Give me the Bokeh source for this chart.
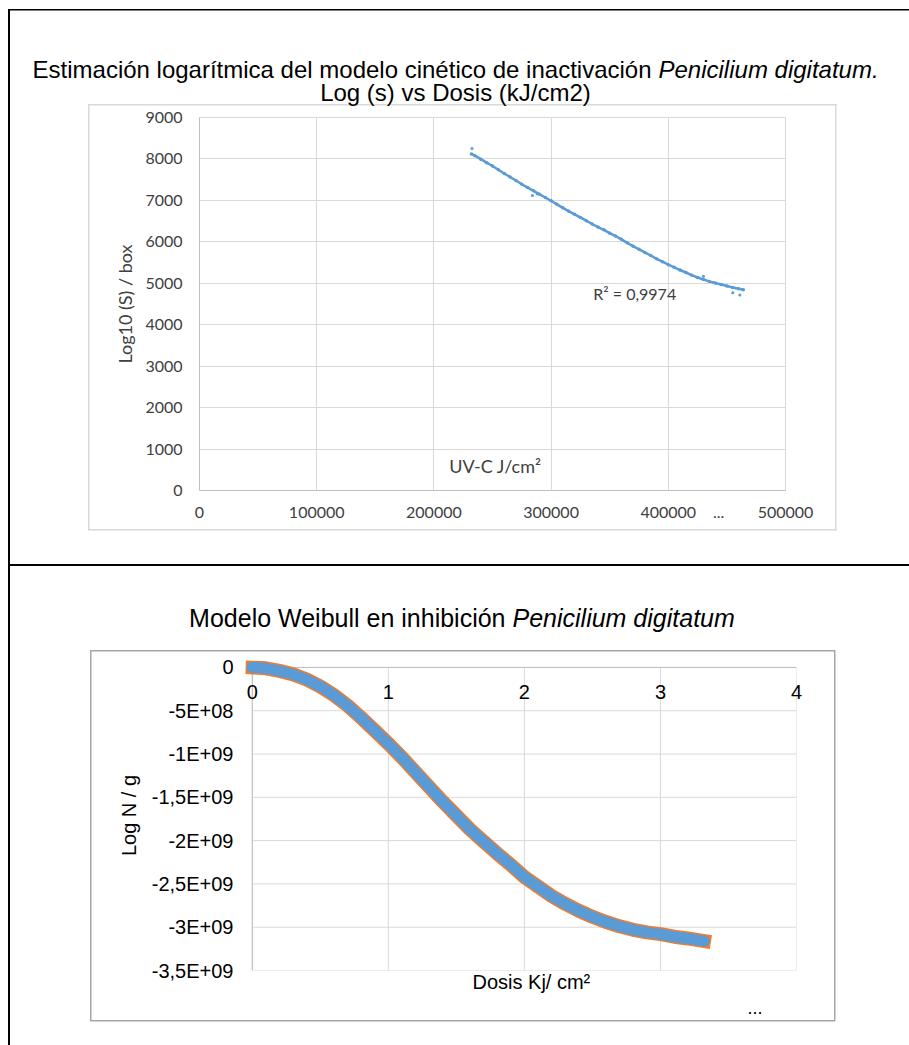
from bokeh.plotting import figure
from bokeh.layouts import column
from bokeh.models import Range1d, FixedTicker, Title
from bokeh.core.properties import value
from bokeh.embed import file_html
from bokeh.resources import INLINE

# ---- Inactivation kinetics: UV-C dose (J/cm2) vs log10 survival ----
uv_dose = [232000, 235000, 240000, 245000, 250000, 255000, 260000, 265000,
           270000, 275000, 280000, 285000, 290000, 295000, 300000, 305000,
           310000, 315000, 320000, 325000, 330000, 335000, 340000, 345000,
           350000, 355000, 360000, 365000, 370000, 375000, 380000, 385000,
           390000, 395000, 400000, 405000, 410000, 415000, 420000, 425000,
           430000, 435000, 440000, 445000, 450000, 455000, 460000, 464000]
log_s = [8120, 8080, 7995, 7910, 7830, 7740, 7650, 7565,
         7480, 7390, 7310, 7230, 7150, 7070, 6990, 6905,
         6820, 6740, 6665, 6590, 6510, 6430, 6355, 6290,
         6210, 6140, 6060, 5975, 5895, 5820, 5745, 5670,
         5590, 5520, 5450, 5385, 5320, 5260, 5195, 5140,
         5090, 5045, 5005, 4970, 4935, 4900, 4870, 4845]
# scattered readings off the main trend
uv_dose_extra = [232500, 284000, 288000, 430000, 455000, 461000]
log_s_extra = [8250, 7120, 7160, 5170, 4770, 4720]

top_x_ticks = [0, 100000, 200000, 300000, 400000, 500000]
top_x_labels = ["0", "100000", "200000", "300000", "400000", "500000"]
top_y_ticks = [0, 1000, 2000, 3000, 4000, 5000, 6000, 7000, 8000, 9000]
top_y_labels = ["0", "1000", "2000", "3000", "4000", "5000", "6000", "7000", "8000", "9000"]
r2_text = "R² = 0,9974"

# ---- Weibull model: dose (kJ/cm2) vs log N/g ----
weibull_dose = [0.0, 0.1, 0.2, 0.3, 0.4, 0.5, 0.6, 0.7, 0.8, 0.9, 1.0,
                1.1, 1.2, 1.3, 1.4, 1.5, 1.6, 1.7, 1.8, 1.9, 2.0,
                2.1, 2.2, 2.3, 2.4, 2.5, 2.6, 2.7, 2.8, 2.9, 3.0,
                3.1, 3.2, 3.32]
weibull_log_n = [0.0, -0.01e9, -0.04e9, -0.08e9, -0.14e9, -0.22e9, -0.32e9,
                 -0.44e9, -0.58e9, -0.73e9, -0.88e9,
                 -1.04e9, -1.21e9, -1.38e9, -1.55e9, -1.71e9, -1.87e9,
                 -2.01e9, -2.15e9, -2.28e9, -2.42e9,
                 -2.53e9, -2.64e9, -2.73e9, -2.81e9, -2.88e9, -2.94e9,
                 -2.99e9, -3.03e9, -3.06e9, -3.08e9,
                 -3.11e9, -3.13e9, -3.16e9]

bottom_x_ticks = [0, 1, 2, 3, 4]
bottom_x_labels = ["0", "1", "2", "3", "4"]
bottom_y_ticks = [0, -500000000, -1000000000, -1500000000, -2000000000,
                  -2500000000, -3000000000, -3500000000]
bottom_y_labels = ["0", "-5E+08", "-1E+09", "-1,5E+09", "-2E+09",
                   "-2,5E+09", "-3E+09", "-3,5E+09"]

BLUE = "#5B9BD5"
ORANGE = "#ED7D31"
GRID = "#d9d9d9"
AXIS = "#bfbfbf"
BOX_TOP = "#d9d9d9"
BOX_BOTTOM = "#a6a6a6"
CALIBRI = "Lato"
ARIAL = "Liberation Sans"
PAGE_W = 909


def css_rules(rules):
    """Page frame and chart-area borders as stacked CSS background layers."""
    layers = [f"linear-gradient({c},{c}) {x}px {y}px / {w}px {h}px no-repeat"
              for (x, y, w, h, c) in rules]
    return ", ".join(layers + ["#ffffff"])


def strip(width, height):
    """A plain transparent drawing surface whose frame fills its canvas,
    with y growing downwards."""
    p = figure(width=width, height=height,
               x_range=Range1d(0, width), y_range=Range1d(height, 0),
               x_axis_type=None, y_axis_type=None,
               toolbar_location=None, output_backend="svg",
               min_border=0, frame_align=False,
               border_fill_color=None, background_fill_color=None)
    p.outline_line_color = None
    return p


def words(p, x, y, text, font, size, style="normal", align="left", color="black"):
    p.text(x=[x], y=[y], text=[text], text_font=value(font), text_font_size=size,
           text_font_style=style, text_align=align, text_baseline="middle",
           text_color=color)


def style_axes(p, font, size, color):
    for ax in (p.xaxis[0], p.yaxis[0]):
        ax.major_tick_line_color = None
        ax.minor_tick_line_color = None
        ax.major_tick_out = 0
        ax.major_tick_in = 0
        ax.axis_line_color = AXIS
        ax.major_label_text_font = font
        ax.major_label_text_font_size = size
        ax.major_label_text_color = color
        ax.axis_label_text_font_style = "normal"
    p.xgrid.grid_line_color = GRID
    p.ygrid.grid_line_color = GRID
    p.outline_line_color = GRID


# ================= top chart =================
head1 = strip(PAGE_W, 107)
words(head1, 651, 69, "Estimación logarítmica del modelo cinético de inactivación",
      ARIAL, "24px", align="right")
words(head1, 658, 69, "Penicilium digitatum.", ARIAL, "24px", style="italic")
words(head1, 455, 92, "Log (s) vs Dosis (kJ/cm2)", ARIAL, "24px", align="center")

ellipsis_x = 443000
top = figure(width=PAGE_W, height=458,
             x_range=Range1d(0, 500000), y_range=Range1d(0, 9000),
             output_backend="svg", toolbar_location=None, frame_align=False,
             border_fill_color=None, background_fill_color=None,
             min_border_left=199, min_border_right=124,
             min_border_top=10, min_border_bottom=75)
style_axes(top, CALIBRI, "16px", "#404040")
top.xaxis.ticker = FixedTicker(ticks=top_x_ticks + [ellipsis_x])
top.xaxis.major_label_overrides = dict(zip(top_x_ticks + [ellipsis_x], top_x_labels + ["..."]))
top.xaxis.major_label_standoff = 16
top.xgrid.ticker = FixedTicker(ticks=top_x_ticks)
top.yaxis.ticker = FixedTicker(ticks=top_y_ticks)
top.yaxis.major_label_overrides = dict(zip(top_y_ticks, top_y_labels))
top.yaxis.major_label_standoff = 17
top.yaxis.axis_label = "Log10 (S) / box"
top.yaxis.axis_label_text_font = CALIBRI
top.yaxis.axis_label_text_font_size = "18px"
top.yaxis.axis_label_text_color = "#404040"
top.yaxis.axis_label_standoff = 6

top.line(uv_dose, log_s, line_color=BLUE, line_width=2.5)
top.scatter(uv_dose, log_s, size=3.5, fill_color=BLUE, line_color=None)
top.scatter(uv_dose_extra, log_s_extra, size=3, fill_color=BLUE, line_color=None)
top.text(x=[336000], y=[4750], text=[r2_text], text_font=value(CALIBRI),
         text_font_size="16px", text_color="#404040", text_baseline="middle")
top.text(x=[213000], y=[600], text=["UV-C J/cm²"], text_font=value(CALIBRI),
         text_font_size="18px", text_color="#404040", text_baseline="middle")

# ================= bottom chart =================
head2 = strip(PAGE_W, 87)
words(head2, 505, 52, "Modelo Weibull en inhibición", ARIAL, "25px", align="right")
words(head2, 512, 52, "Penicilium digitatum", ARIAL, "25px", style="italic")

# a little room left of dose 0 and above log N 0, so the thick curve is not clipped
bot = figure(width=PAGE_W, height=393,
             x_range=Range1d(-0.05, 4), y_range=Range1d(-3.5e9, 0.08e9),
             x_axis_location="above",
             output_backend="svg", toolbar_location=None, frame_align=False,
             border_fill_color=None, background_fill_color=None,
             min_border_left=245, min_border_right=113,
             min_border_top=8, min_border_bottom=75)
style_axes(bot, ARIAL, "20px", "black")
bot.outline_line_color = None
bot.xgrid.visible = False
bot.ygrid.visible = False
bot.xaxis.axis_line_color = None
bot.yaxis.axis_line_color = None
bot.xaxis.ticker = FixedTicker(ticks=bottom_x_ticks)
bot.xaxis.major_label_overrides = dict(zip(bottom_x_ticks, bottom_x_labels))
bot.xaxis.major_label_standoff = -38
bot.yaxis.ticker = FixedTicker(ticks=bottom_y_ticks)
bot.yaxis.major_label_overrides = dict(zip(bottom_y_ticks, bottom_y_labels))
bot.yaxis.major_label_standoff = 12
bot.yaxis.axis_label = "Log N / g"
bot.yaxis.axis_label_text_font = ARIAL
bot.yaxis.axis_label_text_font_size = "20px"
bot.yaxis.axis_label_text_color = "black"
bot.yaxis.axis_label_standoff = 9
bot.add_layout(Title(text="Dosis Kj/ cm²", align="left", offset=227,
                     vertical_align="top", standoff=0,
                     text_font=ARIAL, text_font_size="20px",
                     text_font_style="normal", text_color="black"), "below")
bot.add_layout(Title(text="...", align="left", offset=502,
                     vertical_align="top", standoff=13,
                     text_font=ARIAL, text_font_size="18px",
                     text_font_style="normal", text_color="black"), "below")

# grid lines bounded by the plotted region (dose 0..4, log N -3.5E+09..0)
n_x = len(bottom_x_ticks)
n_y = len(bottom_y_ticks)
bot.segment(x0=bottom_x_ticks, y0=[bottom_y_ticks[-1]] * n_x,
            x1=bottom_x_ticks, y1=[0] * n_x,
            line_color=GRID, line_width=1, level="underlay")
bot.segment(x0=[bottom_x_ticks[0]] * n_y, y0=bottom_y_ticks,
            x1=[bottom_x_ticks[-1]] * n_y, y1=bottom_y_ticks,
            line_color=GRID, line_width=1, level="underlay")
# value axis line at dose 0 and dose axis line at log N 0
bot.segment(x0=[0, 0], y0=[bottom_y_ticks[-1], 0], x1=[0, bottom_x_ticks[-1]], y1=[0, 0],
            line_color=AXIS, line_width=1, level="underlay")

bot.line(weibull_dose, weibull_log_n, line_color=ORANGE, line_width=14,
         line_cap="square", line_join="round")
bot.line(weibull_dose, weibull_log_n, line_color=BLUE, line_width=11,
         line_cap="round", line_join="round")
bot.scatter(weibull_dose, weibull_log_n, size=11, fill_color=BLUE, line_color=None)

# page frame, divider and the two chart-area borders
frame_css = css_rules([
    (8, 9, 2, 1036, "#000000"),
    (8, 9, 901, 1.5, "#000000"),
    (8, 564, 901, 2, "#000000"),
    (87.5, 103.5, 748.5, 1.5, BOX_TOP),
    (87.5, 528.5, 748.5, 1.5, BOX_TOP),
    (87.5, 103.5, 1.5, 426.5, BOX_TOP),
    (834.5, 103.5, 1.5, 426.5, BOX_TOP),
    (90, 650, 745, 1.5, BOX_BOTTOM),
    (90, 1019.5, 745, 1.5, BOX_BOTTOM),
    (90, 650, 1.5, 371, BOX_BOTTOM),
    (833.5, 650, 1.5, 371, BOX_BOTTOM),
])

page = column(head1, top, head2, bot, styles={"background": frame_css})
open("out.html", "w").write(file_html(page, INLINE))
